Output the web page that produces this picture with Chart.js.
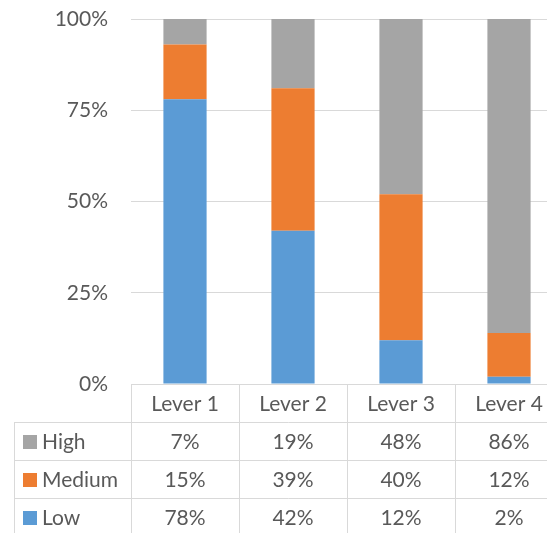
<!DOCTYPE html>
<html>
<head>
<meta charset="utf-8">
<script src="https://cdn.jsdelivr.net/npm/chart.js@4.4.1/dist/chart.umd.min.js"></script>
<style>
  html, body { margin: 0; padding: 0; background: #fff; overflow: hidden; }
  #wrap { width: 563px; height: 533px; }
</style>
</head>
<body>
<div id="wrap"><canvas id="chart" width="563" height="533"></canvas></div>
<script>
// Chart data
const categories = ['Lever 1', 'Lever 2', 'Lever 3', 'Lever 4'];
const lowValues = [78, 42, 12, 2];
const mediumValues = [15, 39, 40, 12];
const highValues = [7, 19, 48, 86];
const yTicks = [0, 25, 50, 75, 100];

const textColor = '#595959';
const lineColor = '#D9D9D9';
const fontFamily = 'Lato, Carlito, "Liberation Sans", sans-serif';
const fontSize = 21;

// Draws the data table under the plot, like Excel's chart data table
const dataTable = {
    id: 'dataTable',
    afterDraw(chart) {
        const ctx = chart.ctx;
        const xs = chart.scales.x;
        const area = chart.chartArea;
        const top = area.bottom;
        const rowH = 38;
        const colW = xs.getPixelForValue(1) - xs.getPixelForValue(0);
        const legendLeft = 14.5;
        const rows = chart.data.datasets.slice().reverse();
        const bottom = top + rowH * (rows.length + 1);

        ctx.save();
        ctx.strokeStyle = lineColor;
        ctx.lineWidth = 1;
        ctx.beginPath();
        // header top line
        ctx.moveTo(area.left, top + 0.5);
        ctx.lineTo(area.right, top + 0.5);
        // row lines
        for (let r = 1; r <= rows.length + 1; r++) {
            const y = Math.round(top + rowH * r) + 0.5;
            ctx.moveTo(legendLeft, y);
            ctx.lineTo(area.right, y);
        }
        // left edge of legend column
        ctx.moveTo(legendLeft, top + rowH);
        ctx.lineTo(legendLeft, bottom);
        // column lines
        for (let c = 0; c <= categories.length; c++) {
            const x = Math.round(area.left + colW * c) + 0.5;
            ctx.moveTo(x, top);
            ctx.lineTo(x, bottom);
        }
        ctx.stroke();

        ctx.font = fontSize + 'px ' + fontFamily;
        ctx.fillStyle = textColor;
        ctx.textBaseline = 'middle';
        ctx.textAlign = 'center';
        categories.forEach((cat, i) => {
            ctx.fillText(cat, xs.getPixelForValue(i), top + rowH / 2 + 1);
        });

        rows.forEach((ds, r) => {
            const cy = top + rowH * (r + 1) + rowH / 2 + 1;
            ctx.fillStyle = ds.backgroundColor;
            ctx.fillRect(23, Math.round(cy - 7), 14, 14);
            ctx.fillStyle = textColor;
            ctx.textAlign = 'left';
            ctx.fillText(ds.label, 42, cy);
            ctx.textAlign = 'center';
            ds.data.forEach((v, i) => {
                ctx.fillText(v + '%', xs.getPixelForValue(i), cy);
            });
        });
        ctx.restore();
    }
};

document.addEventListener('DOMContentLoaded', () => {
    const ctx = document.getElementById('chart');
    new Chart(ctx, {
        type: 'bar',
        data: {
            labels: categories,
            datasets: [
                { label: 'Low', data: lowValues, backgroundColor: '#5B9BD5' },
                { label: 'Medium', data: mediumValues, backgroundColor: '#ED7D31' },
                { label: 'High', data: highValues, backgroundColor: '#A5A5A5' }
            ]
        },
        options: {
            responsive: false,
            animation: false,
            layout: { padding: { top: 19, bottom: 149, left: 0, right: 0 } },
            datasets: {
                bar: { barPercentage: 1, categoryPercentage: 0.4, borderWidth: 0 }
            },
            plugins: {
                legend: { display: false },
                tooltip: { enabled: false }
            },
            scales: {
                x: {
                    stacked: true,
                    display: false
                },
                y: {
                    stacked: true,
                    min: 0,
                    max: 100,
                    afterFit(scale) { scale.width = 131; },
                    afterBuildTicks(scale) {
                        scale.ticks = yTicks.map(v => ({ value: v }));
                    },
                    border: { display: false },
                    // invisible tick marks push the labels away from the plot
                    grid: { color: lineColor, drawTicks: true, tickLength: 23, tickColor: 'rgba(0,0,0,0)' },
                    ticks: {
                        padding: 0,
                        color: textColor,
                        font: { family: fontFamily, size: fontSize },
                        callback: v => v + '%'
                    }
                }
            }
        },
        plugins: [dataTable]
    });
});
</script>
</body>
</html>
